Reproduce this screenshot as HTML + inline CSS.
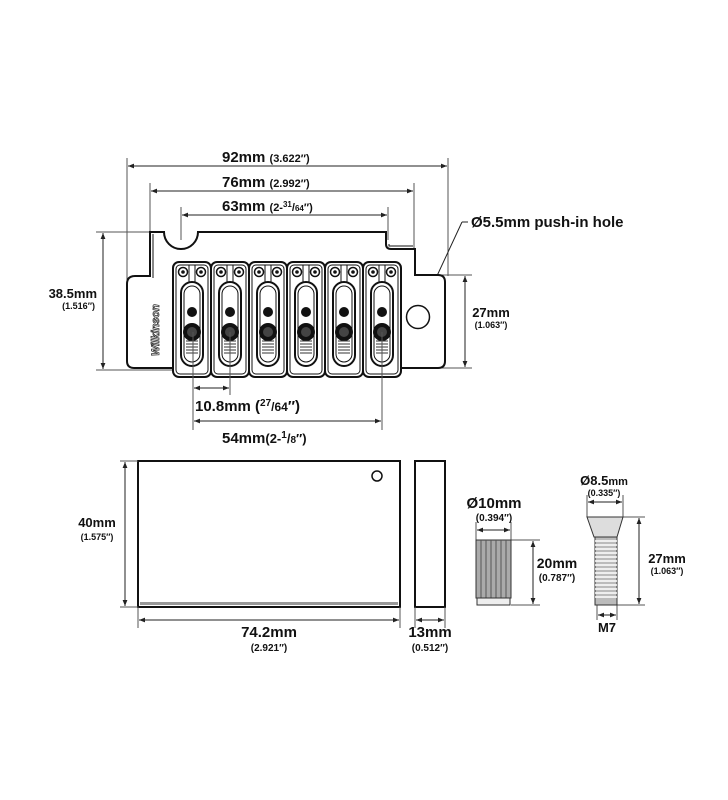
<!DOCTYPE html>
<html><head><meta charset="utf-8"><style>
html,body{margin:0;padding:0;background:#fff}
svg{display:block}
text{font-family:"Liberation Sans",Arial,sans-serif;font-weight:bold;fill:#111}
</style></head><body>
<svg width="728" height="800" viewBox="0 0 728 800" xmlns="http://www.w3.org/2000/svg">
<defs>
<marker id="a" viewBox="0 0 10 10" refX="10" refY="5" markerWidth="6" markerHeight="6" orient="auto-start-reverse"><path d="M0,1 L10,5 L0,9 z" fill="#222"/></marker>
<g id="sad">
<rect x="0" y="0" width="38" height="115" rx="6" fill="#fff" stroke="#111" stroke-width="2"/>
<rect x="3" y="3" width="32" height="109" rx="4" fill="none" stroke="#111" stroke-width="1"/>
<circle cx="10" cy="10" r="4.5" fill="none" stroke="#111" stroke-width="1.5"/><circle cx="10" cy="10" r="1.8" fill="#111"/>
<circle cx="28" cy="10" r="4.5" fill="none" stroke="#111" stroke-width="1.5"/><circle cx="28" cy="10" r="1.8" fill="#111"/>
<line x1="16" y1="3" x2="16" y2="20" stroke="#111"/><line x1="22" y1="3" x2="22" y2="20" stroke="#111"/>
<rect x="8" y="20" width="22" height="84" rx="11" fill="#fff" stroke="#111" stroke-width="2"/>
<rect x="11" y="24" width="16" height="76" rx="8" fill="none" stroke="#111" stroke-width="1"/>
<circle cx="19" cy="50" r="5" fill="#111"/>
<circle cx="19" cy="70" r="9" fill="#111"/><circle cx="19" cy="70" r="5" fill="#444"/>
<path d="M13,79 h12 M13,82 h12 M13,85 h12 M13,88 h12 M13,91 h12" stroke="#333" stroke-width="1"/>
</g>
</defs>
<g stroke="#555" stroke-width="1" fill="none">
<line x1="127" y1="158" x2="127" y2="280"/><line x1="448" y1="158" x2="448" y2="276"/>
<line x1="150" y1="183" x2="150" y2="232"/><line x1="414" y1="183" x2="414" y2="248"/>
<line x1="181" y1="207" x2="181" y2="240"/><line x1="388" y1="207" x2="388" y2="240"/>
<line x1="96" y1="232" x2="150" y2="232"/><line x1="96" y1="370" x2="172" y2="370"/>
<line x1="440" y1="275" x2="472" y2="275"/><line x1="440" y1="368" x2="472" y2="368"/>
<line x1="193" y1="340" x2="193" y2="430"/><line x1="230" y1="340" x2="230" y2="395"/><line x1="382" y1="340" x2="382" y2="430"/>
</g>
<g stroke="#222" stroke-width="1" marker-start="url(#a)" marker-end="url(#a)">
<line x1="128" y1="166" x2="447" y2="166"/>
<line x1="151" y1="191" x2="413" y2="191"/>
<line x1="182" y1="215" x2="387" y2="215"/>
<line x1="103" y1="233" x2="103" y2="369"/>
<line x1="465" y1="276" x2="465" y2="367"/>
<line x1="194" y1="388" x2="229" y2="388"/>
<line x1="194" y1="421" x2="381" y2="421"/>
</g>
<path d="M462,222 L468,222 M462,222 L423,306" stroke="#222" fill="none" marker-end="url(#a)"/>
<!-- body -->
<path d="M150,232 L164,232 A17,17 0 0 0 198,232 L386,232 L386,244 Q386,249 391,249 L415,249 L415,275 L438,275 Q445,275 445,282 L445,361 Q445,368 438,368 L134,368 Q127,368 127,361 L127,284 Q127,276 135,276 L150,276 Z" fill="#fff" stroke="#111" stroke-width="2"/>
<path d="M153,234 L153,278 M389,244 L389,246 L413,246" stroke="#111" fill="none" stroke-width="1"/>
<circle cx="418" cy="317" r="11.5" fill="#fff" stroke="#111" stroke-width="1.5"/>
<text x="0" y="0" font-size="11" transform="translate(159,356) rotate(-90)" style="fill:#fff;stroke:#333;stroke-width:0.8;font-style:italic">Wilkinson</text>
<use href="#sad" x="173" y="262"/><use href="#sad" x="211" y="262"/><use href="#sad" x="249" y="262"/>
<use href="#sad" x="287" y="262"/><use href="#sad" x="325" y="262"/><use href="#sad" x="363" y="262"/>
<line x1="193" y1="332" x2="193" y2="430" stroke="#555"/><line x1="230" y1="332" x2="230" y2="395" stroke="#555"/><line x1="382" y1="332" x2="382" y2="430" stroke="#555"/>
<!-- labels -->
<text x="222" y="162" font-size="15">92mm <tspan font-size="11">(3.622″)</tspan></text>
<text x="222" y="187" font-size="15">76mm <tspan font-size="11">(2.992″)</tspan></text>
<text x="222" y="211" font-size="15">63mm <tspan font-size="11">(2-<tspan font-size="8" dy="-4">31</tspan><tspan dy="4">/</tspan><tspan font-size="8">64</tspan>″)</tspan></text>
<text x="471" y="227" font-size="15">Ø5.5mm push-in hole</text>
<text x="97" y="298" font-size="13" text-anchor="end">38.5mm</text>
<text x="95" y="309" font-size="9" text-anchor="end">(1.516″)</text>
<text x="491" y="317" font-size="13" text-anchor="middle">27mm</text>
<text x="491" y="328" font-size="9" text-anchor="middle">(1.063″)</text>
<text x="195" y="411" font-size="15">10.8mm (<tspan font-size="10" dy="-5">27</tspan><tspan dy="5" font-size="12">/64</tspan>″)</text>
<text x="222" y="443" font-size="15">54mm<tspan font-size="13">(2-<tspan font-size="10" dy="-5">1</tspan><tspan dy="5">/</tspan><tspan font-size="10">8</tspan>″)</tspan></text>
<!-- bottom block -->
<rect x="138" y="461" width="262" height="146" fill="#fff" stroke="#111" stroke-width="2"/>
<rect x="140" y="602" width="258" height="3" fill="#999"/>
<circle cx="377" cy="476" r="5" fill="none" stroke="#111" stroke-width="1.5"/>
<rect x="415" y="461" width="30" height="146" fill="#fff" stroke="#111" stroke-width="2"/>
<g stroke="#555" stroke-width="1"><line x1="120" y1="461" x2="138" y2="461"/><line x1="120" y1="607" x2="138" y2="607"/>
<line x1="138" y1="607" x2="138" y2="628"/><line x1="400" y1="607" x2="400" y2="628"/><line x1="415" y1="607" x2="415" y2="628"/><line x1="445" y1="607" x2="445" y2="628"/>
<line x1="476" y1="522" x2="476" y2="540"/><line x1="511" y1="522" x2="511" y2="540"/>
<line x1="511" y1="540" x2="540" y2="540"/><line x1="511" y1="605" x2="540" y2="605"/>
<line x1="587" y1="495" x2="587" y2="517"/><line x1="623" y1="495" x2="623" y2="517"/>
<line x1="623" y1="517" x2="645" y2="517"/><line x1="617" y1="605" x2="645" y2="605"/>
<line x1="597" y1="605" x2="597" y2="620"/><line x1="617" y1="605" x2="617" y2="620"/></g>
<g stroke="#222" stroke-width="1" marker-start="url(#a)" marker-end="url(#a)">
<line x1="125" y1="462" x2="125" y2="606"/>
<line x1="139" y1="620" x2="399" y2="620"/>
<line x1="416" y1="620" x2="444" y2="620"/>
<line x1="477" y1="530" x2="510" y2="530"/>
<line x1="533" y1="541" x2="533" y2="604"/>
<line x1="588" y1="502" x2="622" y2="502"/>
<line x1="639" y1="518" x2="639" y2="604"/>
<line x1="598" y1="615" x2="616" y2="615"/>
</g>
<rect x="476" y="540" width="35" height="58" fill="#aaa" stroke="#333"/>
<g stroke="#555" stroke-width="1"><line x1="481" y1="540" x2="481" y2="598"/><line x1="486" y1="540" x2="486" y2="598"/><line x1="491" y1="540" x2="491" y2="598"/><line x1="496" y1="540" x2="496" y2="598"/><line x1="501" y1="540" x2="501" y2="598"/><line x1="506" y1="540" x2="506" y2="598"/></g>
<rect x="477" y="598" width="33" height="7" fill="#eee" stroke="#333"/>
<path d="M587,517 L623,517 L617,537 L594,537 Z" fill="#ddd" stroke="#333"/>
<rect x="595" y="537" width="22" height="68" fill="#bbb" stroke="#333"/>
<path d="M595,541h22M595,545h22M595,549h22M595,553h22M595,557h22M595,561h22M595,565h22M595,569h22M595,573h22M595,577h22M595,581h22M595,585h22M595,589h22M595,593h22M595,597h22" stroke="#fff" stroke-width="1.5"/>
<text x="97" y="527" font-size="13" text-anchor="middle">40mm</text>
<text x="97" y="540" font-size="9" text-anchor="middle">(1.575″)</text>
<text x="269" y="637" font-size="15" text-anchor="middle">74.2mm</text>
<text x="269" y="651" font-size="10" text-anchor="middle">(2.921″)</text>
<text x="430" y="637" font-size="15" text-anchor="middle">13mm</text>
<text x="430" y="651" font-size="10" text-anchor="middle">(0.512″)</text>
<text x="494" y="508" font-size="15" text-anchor="middle">Ø10mm</text>
<text x="494" y="521" font-size="10" text-anchor="middle">(0.394″)</text>
<text x="557" y="568" font-size="14" text-anchor="middle">20mm</text>
<text x="557" y="581" font-size="10" text-anchor="middle">(0.787″)</text>
<text x="604" y="485" font-size="13" text-anchor="middle">Ø8.5<tspan font-size="11">mm</tspan></text>
<text x="604" y="496" font-size="9" text-anchor="middle">(0.335″)</text>
<text x="667" y="563" font-size="13" text-anchor="middle">27mm</text>
<text x="667" y="574" font-size="9" text-anchor="middle">(1.063″)</text>
<text x="607" y="632" font-size="13" text-anchor="middle">M7</text>
</svg>
</body></html>
